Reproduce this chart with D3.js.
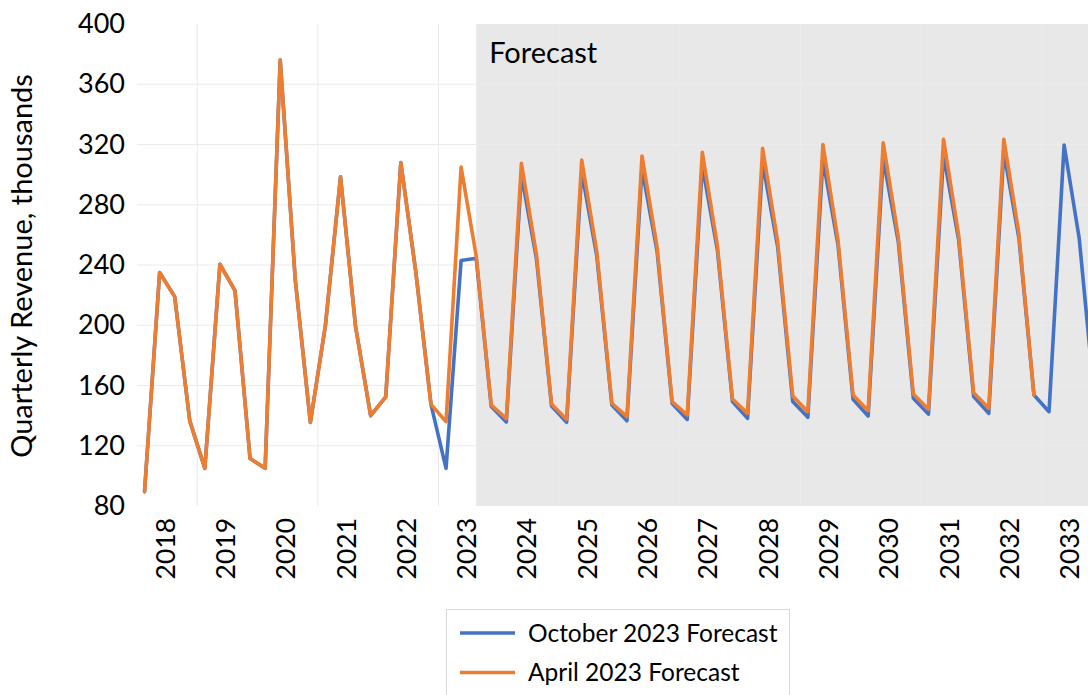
<!DOCTYPE html>
<html>
<head>
<meta charset="utf-8">
<script src="https://cdn.jsdelivr.net/npm/d3@7"></script>
<style>
  html, body { margin: 0; padding: 0; background: #fff; }
  svg { display: block; }
  text { font-family: Lato, "Open Sans", sans-serif; }
</style>
</head>
<body>
<svg id="chart" width="1088" height="695"></svg>
<script>
// ---------- data ----------
const yearLabels = ["2018","2019","2020","2021","2022","2023","2024","2025","2026","2027","2028","2029","2030","2031","2032","2033"];
// quarterly categories: first point is Q4 of 2017, year labels sit on Q1
const categories = ["2017 Q4"].concat(...Array.from({length: 16}, (_, k) => ["Q1","Q2","Q3","Q4"].map(q => (2018 + k) + " " + q))).slice(0, 64);

const octoberForecast = [
  89.5, 235, 219, 136.5, 105, 240.5, 223, 111.5, 105, 376, 230, 135.5, 200, 298.5, 199, 140, 152.5, 308, 235, 147.5,
  105, 243, 244.5, 146, 135.8,
  300, 244, 146.4, 135.6,
  302, 246, 147, 136.6,
  304, 249, 148, 137.5,
  306, 250, 149.3, 138.2,
  308, 252, 149.3, 138.9,
  310, 253.5, 150.8, 139.8,
  311, 255.5, 151.5, 141,
  313, 257, 152.6, 141.5,
  315, 258, 153.7, 142.6,
  319.7, 257.8, 153
];
const aprilForecast = [
  89.5, 235, 219, 136.5, 105, 240.5, 223, 111.5, 105, 376, 230, 135.5, 200, 298.5, 199, 140, 152.5, 308, 235, 147.5,
  136, 305, 246, 147, 138,
  307.5, 246.7, 147.7, 137.5,
  309.7, 249, 148.2, 139.3,
  312.4, 252, 149.3, 140.4,
  314.9, 253, 151, 141.5,
  317.5, 255.5, 153, 142.6,
  320, 256.6, 153.7, 143.3,
  321.2, 258.8, 154.4, 144.2,
  323.4, 260, 155.2, 144.9,
  323.4, 261.1, 153.7
];
const yTicks = [80, 120, 160, 200, 240, 280, 320, 360, 400];
const yearTickIndex = yearLabels.map((_, k) => 1 + 4 * k);
const forecastStartIndex = 22;
const seriesNames = ["October 2023 Forecast", "April 2023 Forecast"];
const seriesColors = ["#4472C4", "#ED7D31"];

// ---------- layout ----------
const svg = d3.select("#chart");
const plot = { left: 137, top: 24, bottom: 506, step: 15.075 };
const n = categories.length;
const x = d3.scaleLinear().domain([-0.5, n - 0.5]).range([plot.left, plot.left + n * plot.step]);
const y = d3.scaleLinear().domain([80, 400]).range([plot.bottom, plot.top]);

// forecast shading
svg.append("rect")
  .attr("x", x(forecastStartIndex))
  .attr("y", y(400))
  .attr("width", x(n - 0.5) - x(forecastStartIndex))
  .attr("height", y(80) - y(400))
  .attr("fill", "#e8e8e8");

// gridlines
const gridY = yTicks.filter(t => t > 80 && t < 400);
svg.append("g").selectAll("line").data(gridY).join("line")
  .attr("x1", x(-0.5)).attr("x2", x(n - 0.5))
  .attr("y1", d => y(d)).attr("y2", d => y(d))
  .attr("stroke", "#ebebeb").attr("stroke-width", 1);
const gridX = d3.range(3.5, n, 8);
svg.append("g").selectAll("line").data(gridX).join("line")
  .attr("x1", d => x(d)).attr("x2", d => x(d))
  .attr("y1", y(400)).attr("y2", y(80))
  .attr("stroke", "#ebebeb").attr("stroke-width", 1);

// "Forecast" label
svg.append("text")
  .attr("x", x(forecastStartIndex) + 13)
  .attr("y", 63)
  .attr("font-size", 29)
  .attr("fill", "#000")
  .text("Forecast");

// y axis
const yAxis = d3.axisLeft(y).tickValues(yTicks).tickSize(0).tickPadding(12).tickFormat(d3.format("d"));
const gy = svg.append("g").attr("transform", `translate(${plot.left},0)`).call(yAxis);
gy.select(".domain").remove();
gy.selectAll("text").attr("font-size", 27).attr("font-family", "Lato").attr("fill", "#000");

// y title
svg.append("text")
  .attr("transform", `translate(32,${(plot.top + plot.bottom) / 2 + 1}) rotate(-90)`)
  .attr("text-anchor", "middle")
  .attr("font-size", 29)
  .attr("fill", "#000")
  .text("Quarterly Revenue, thousands");

// x axis
const xAxis = d3.axisBottom(x).tickValues(yearTickIndex).tickSize(0)
  .tickFormat((d, i) => yearLabels[i]);
const gx = svg.append("g").attr("transform", `translate(0,${plot.bottom})`).call(xAxis);
gx.select(".domain").remove();
gx.selectAll("text")
  .attr("font-size", 26.5).attr("font-family", "Lato").attr("fill", "#000")
  .attr("text-anchor", "end")
  .attr("y", 0).attr("dy", "0.36em")
  .attr("transform", "translate(5,12) rotate(-90)");

// lines
const line = d3.line().x((d, i) => x(i)).y(d => y(d)).curve(d3.curveLinear);
[octoberForecast, aprilForecast].forEach((s, k) => {
  svg.append("path")
    .datum(s)
    .attr("d", line)
    .attr("fill", "none")
    .attr("stroke", seriesColors[k])
    .attr("stroke-width", 3.6)
    .attr("stroke-linejoin", "round")
    .attr("stroke-linecap", "round");
});

// legend
const lg = svg.append("g");
lg.append("rect").attr("x", 446.5).attr("y", 609.5).attr("width", 343).attr("height", 100)
  .attr("fill", "#fff").attr("stroke", "#d9d9d9");
seriesNames.forEach((name, k) => {
  const cy = 633 + k * 39.5;
  lg.append("line").attr("x1", 460).attr("x2", 515).attr("y1", cy).attr("y2", cy)
    .attr("stroke", seriesColors[k]).attr("stroke-width", 3.6);
  lg.append("text").attr("x", 528).attr("y", cy).attr("dy", "0.36em")
    .attr("font-size", 24.5).attr("fill", "#000").text(name);
});
</script>
</body>
</html>
